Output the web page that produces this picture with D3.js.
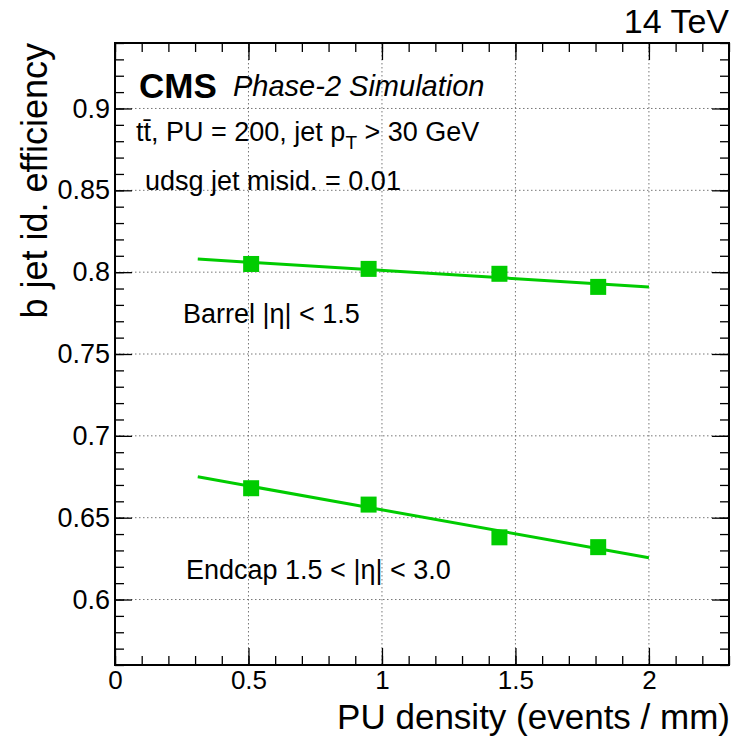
<!DOCTYPE html>
<html>
<head>
<meta charset="utf-8">
<script src="https://cdn.jsdelivr.net/npm/d3@7"></script>
<style>
  body { margin: 0; background: #fff; }
  text { font-family: "Liberation Sans", Arial, Helvetica, sans-serif; fill: #000; }
</style>
</head>
<body>
<div id="chart"></div>
<script>
// values
const puDensity = [0.51, 0.95, 1.44, 1.81];
const barrelEff = [0.805, 0.802, 0.799, 0.791];
const endcapEff = [0.668, 0.658, 0.638, 0.632];
const fitRange = [0.31, 2.0];
const barrelFit = [0.808, 0.791];
const endcapFit = [0.675, 0.6255];
const xTicks = [0, 0.5, 1, 1.5, 2];
const yTicks = [0.6, 0.65, 0.7, 0.75, 0.8, 0.85, 0.9];

const W = 736, H = 739;
const margin = {top: 43, right: 7, bottom: 74, left: 115};
const width = W - margin.left - margin.right;
const height = H - margin.top - margin.bottom;
const green = "#00cc00";

const svg = d3.select("#chart").append("svg")
  .attr("width", W)
  .attr("height", H);

const g = svg.append("g")
  .attr("transform", `translate(${margin.left},${margin.top})`);

const x = d3.scaleLinear().domain([0, 2.3]).range([0, width]);
const y = d3.scaleLinear().domain([0.56, 0.94]).range([height, 0]);

const xMinor = d3.range(0, 2.31, 0.1);
const yMinor = d3.range(0.56, 0.941, 0.01);

// dotted grid
g.append("g")
  .selectAll("line.gx")
  .data(xTicks.filter(d => d > 0))
  .enter().append("line")
  .attr("x1", d => x(d)).attr("x2", d => x(d))
  .attr("y1", 0).attr("y2", height)
  .attr("stroke", "#777").attr("stroke-width", 1)
  .attr("stroke-dasharray", "1.5,2.5");
g.append("g")
  .selectAll("line.gy")
  .data(yTicks)
  .enter().append("line")
  .attr("x1", 0).attr("x2", width)
  .attr("y1", d => y(d)).attr("y2", d => y(d))
  .attr("stroke", "#777").attr("stroke-width", 1)
  .attr("stroke-dasharray", "1.5,2.5");

// ticks, pointing inward on all four sides
function styleAxis(sel) {
  sel.select(".domain").remove();
  sel.selectAll(".tick line").attr("stroke", "#000").attr("stroke-width", 1.3);
}

g.append("g").attr("transform", `translate(0,${height})`)
  .call(d3.axisBottom(x).tickValues(xMinor).tickSize(-9).tickFormat(""))
  .call(styleAxis);
g.append("g").attr("transform", `translate(0,${height})`)
  .call(d3.axisBottom(x).tickValues(xTicks).tickSize(-17).tickPadding(6).tickFormat(d3.format("")))
  .call(styleAxis)
  .call(s => s.selectAll("text").attr("font-size", 26).attr("fill", "#000"));
g.append("g")
  .call(d3.axisTop(x).tickValues(xMinor).tickSize(-9).tickFormat(""))
  .call(styleAxis);
g.append("g")
  .call(d3.axisTop(x).tickValues(xTicks).tickSize(-17).tickFormat(""))
  .call(styleAxis);

g.append("g")
  .call(d3.axisLeft(y).tickValues(yMinor).tickSize(-9).tickFormat(""))
  .call(styleAxis);
g.append("g")
  .call(d3.axisLeft(y).tickValues(yTicks).tickSize(-17).tickPadding(6).tickFormat(d3.format("")))
  .call(styleAxis)
  .call(s => s.selectAll("text").attr("font-size", 27).attr("fill", "#000").attr("x", -5));
g.append("g").attr("transform", `translate(${width},0)`)
  .call(d3.axisRight(y).tickValues(yMinor).tickSize(-9).tickFormat(""))
  .call(styleAxis);
g.append("g").attr("transform", `translate(${width},0)`)
  .call(d3.axisRight(y).tickValues(yTicks).tickSize(-17).tickFormat(""))
  .call(styleAxis);

// frame
g.append("rect")
  .attr("width", width).attr("height", height)
  .attr("fill", "none").attr("stroke", "#000").attr("stroke-width", 2);

// fit lines
const line = d3.line().x(d => x(d[0])).y(d => y(d[1]));
[barrelFit, endcapFit].forEach(fit => {
  g.append("path")
    .datum(fitRange.map((v, i) => [v, fit[i]]))
    .attr("d", line)
    .attr("fill", "none")
    .attr("stroke", green)
    .attr("stroke-width", 3);
});

// markers
const ms = 16;
[barrelEff, endcapEff].forEach(series => {
  g.append("g")
    .selectAll("rect")
    .data(puDensity.map((v, i) => [v, series[i]]))
    .enter().append("rect")
    .attr("x", d => x(d[0]) - ms / 2)
    .attr("y", d => y(d[1]) - ms / 2)
    .attr("width", ms).attr("height", ms)
    .attr("fill", green);
});

// labels
svg.append("text")
  .attr("x", 729).attr("y", 33)
  .attr("text-anchor", "end")
  .attr("font-size", 34)
  .text("14 TeV");

svg.append("text")
  .attr("x", 730).attr("y", 729)
  .attr("text-anchor", "end")
  .attr("font-size", 35)
  .text("PU density (events / mm)");

svg.append("text")
  .attr("transform", "translate(47,43) rotate(-90)")
  .attr("text-anchor", "end")
  .attr("font-size", 36)
  .text("b jet id. efficiency");

svg.append("text")
  .attr("x", 139).attr("y", 98)
  .attr("font-size", 35)
  .attr("font-weight", "bold")
  .text("CMS");
svg.append("text")
  .attr("x", 233).attr("y", 96)
  .attr("font-size", 29)
  .attr("font-style", "italic")
  .text("Phase-2 Simulation");

const t1 = svg.append("text")
  .attr("x", 136).attr("y", 141)
  .attr("font-size", 27);
t1.append("tspan").text("tt\u0304, PU = 200, jet p");
t1.append("tspan").attr("font-size", 19).attr("dy", 8).text("T");
t1.append("tspan").attr("dy", -8).text(" > 30 GeV");

svg.append("text")
  .attr("x", 145).attr("y", 190)
  .attr("font-size", 27)
  .text("udsg jet misid. = 0.01");

svg.append("text")
  .attr("x", 183).attr("y", 323)
  .attr("font-size", 27)
  .text("Barrel |\u03B7| < 1.5");

svg.append("text")
  .attr("x", 186).attr("y", 579)
  .attr("font-size", 27)
  .text("Endcap 1.5 < |\u03B7| < 3.0");
</script>
</body>
</html>
